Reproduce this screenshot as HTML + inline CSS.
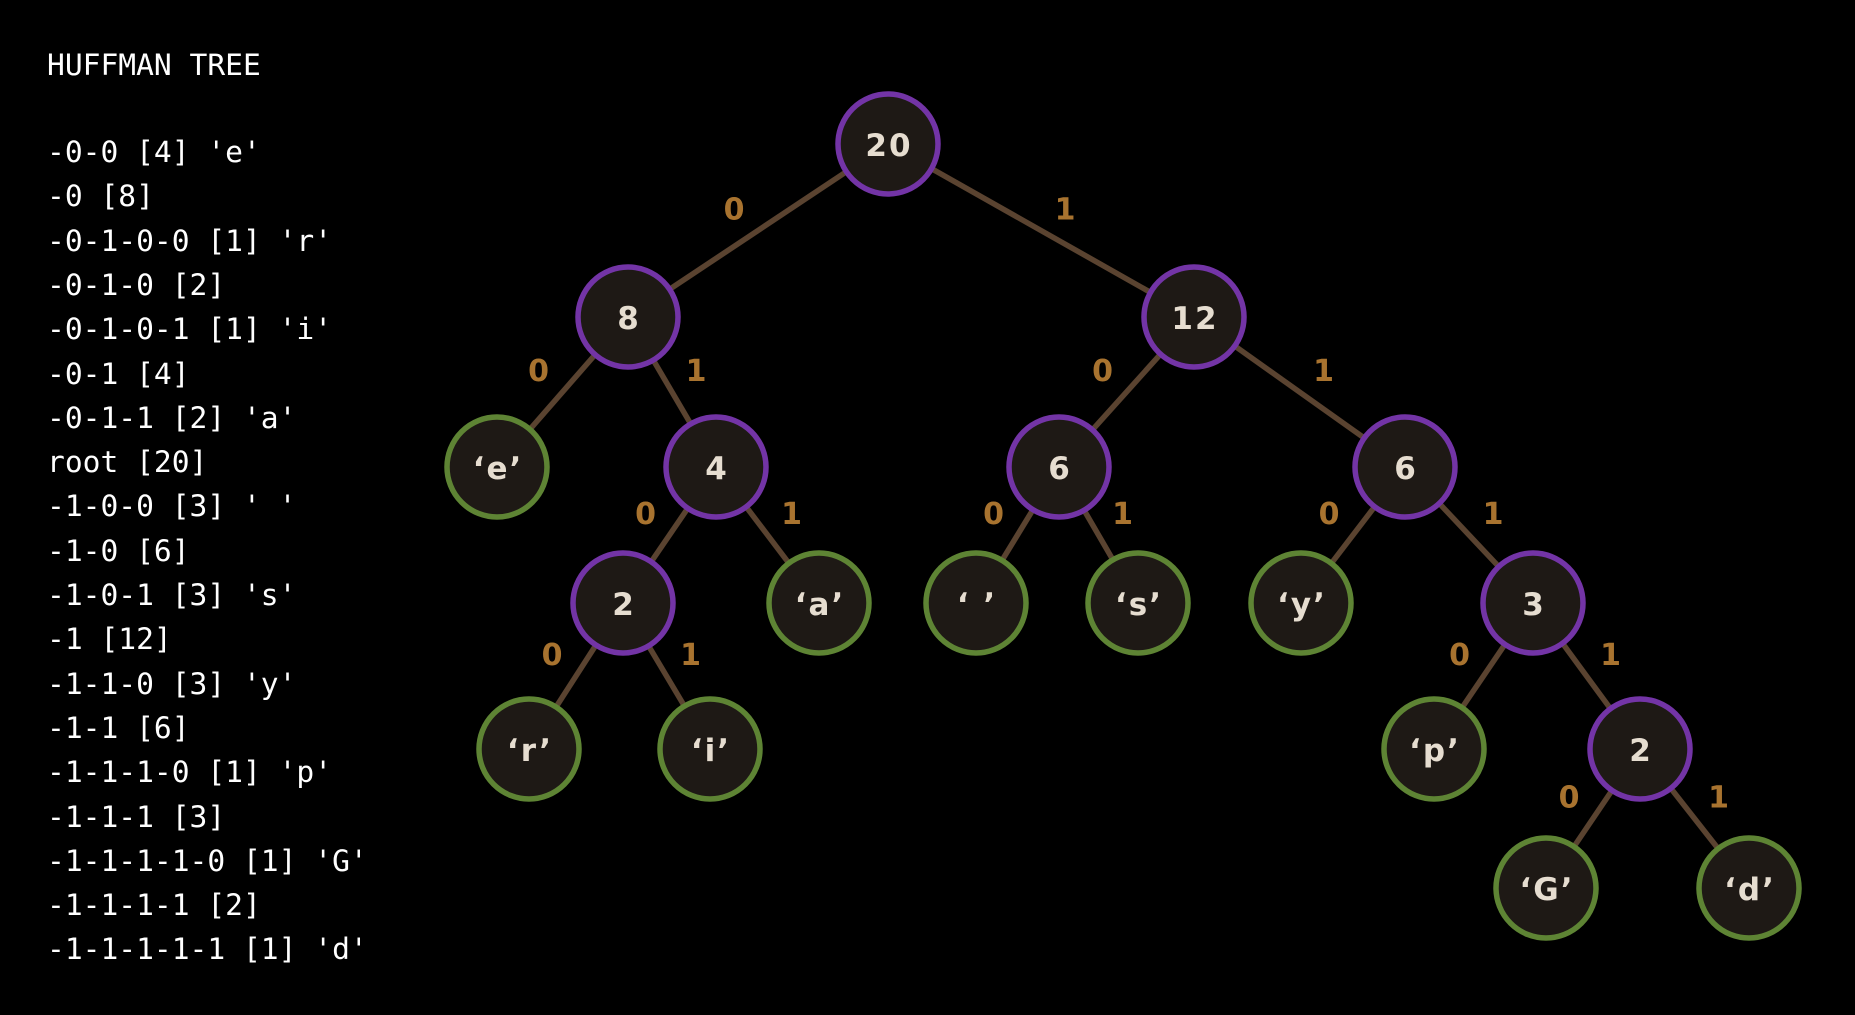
<!DOCTYPE html>
<html><head><meta charset="utf-8">
<style>
html,body{margin:0;padding:0;background:#000;width:1855px;height:1015px;overflow:hidden}
#list{position:absolute;left:47px;top:0;font-family:"DejaVu Sans Mono","Liberation Mono",monospace;font-size:29.6px;color:#fff;white-space:pre}
#list div{position:absolute;left:0;white-space:pre}
svg{position:absolute;left:0;top:0}
</style></head>
<body>
<div id="list"></div>
<svg id="tree" width="1855" height="1015"></svg>
<script>
const listLines = ["-0-0 [4] 'e'","-0 [8]","-0-1-0-0 [1] 'r'","-0-1-0 [2]","-0-1-0-1 [1] 'i'","-0-1 [4]","-0-1-1 [2] 'a'","root [20]","-1-0-0 [3] ' '","-1-0 [6]","-1-0-1 [3] 's'","-1 [12]","-1-1-0 [3] 'y'","-1-1 [6]","-1-1-1-0 [1] 'p'","-1-1-1 [3]","-1-1-1-1-0 [1] 'G'","-1-1-1-1 [2]","-1-1-1-1-1 [1] 'd'"];
const nodeIds = ["root","n8","n12","e","n4","n6a","n6b","n2","a","sp","s","y","n3","r","i","p","n2b","G","d"];
const nodeLabels = ["20","8","12","\u2018e\u2019","4","6","6","2","\u2018a\u2019","\u2018 \u2019","\u2018s\u2019","\u2018y\u2019","3","\u2018r\u2019","\u2018i\u2019","\u2018p\u2019","2","\u2018G\u2019","\u2018d\u2019"];
const nodeLeaf = [0,0,0,1,0,0,0,0,1,1,1,1,0,1,1,1,0,1,1];
const nodeX = [888,628,1194,497,716,1059,1405,623,819,976,1138,1301,1533,529,710,1434,1640,1546,1749];
const nodeY = [144,317,317,467,467,467,467,603,603,603,603,603,603,749,749,749,749,888,888];
const edgeFrom = ["root","root","n8","n8","n4","n4","n2","n2","n12","n12","n6a","n6a","n6b","n6b","n3","n3","n2b","n2b"];
const edgeTo = ["n8","n12","e","n4","n2","a","r","i","n6a","n6b","sp","s","y","n3","p","n2b","G","d"];
const edgeBit = ["0","1","0","1","0","1","0","1","0","1","0","1","0","1","0","1","0","1"];

const L = document.getElementById('list');
const t = document.createElement('div');
t.textContent = "HUFFMAN TREE";
t.style.top = "48px";


L.appendChild(t);
listLines.forEach((s,i)=>{
  const d = document.createElement('div');
  d.textContent = s;
  d.style.top = (135 + i*44.3) + "px";
  
  
  L.appendChild(d);
});

const NS = "http://www.w3.org/2000/svg";
const svg = document.getElementById('tree');
const idx = id => nodeIds.indexOf(id);
edgeFrom.forEach((f,k)=>{
  const a = idx(f), b = idx(edgeTo[k]);
  const ln = document.createElementNS(NS,'line');
  ln.setAttribute('x1',nodeX[a]); ln.setAttribute('y1',nodeY[a]);
  ln.setAttribute('x2',nodeX[b]); ln.setAttribute('y2',nodeY[b]);
  ln.setAttribute('stroke','#5a4330'); ln.setAttribute('stroke-width','5.5');
  
  
  svg.appendChild(ln);
  const mx = (nodeX[a]+nodeX[b])/2, my = (nodeY[a]+nodeY[b])/2;
  const dir = nodeX[b] < nodeX[a] ? -1 : 1;
  const tx = document.createElementNS(NS,'text');
  tx.setAttribute('x', mx + dir*24);
  tx.setAttribute('y', my - 11);
  tx.setAttribute('text-anchor','middle');
  tx.setAttribute('font-family','"DejaVu Sans","Liberation Sans",sans-serif');
  tx.setAttribute('font-weight','bold');
  tx.setAttribute('font-size','30');
  tx.setAttribute('fill','#a8732f');
  tx.textContent = edgeBit[k];
  
  
  svg.appendChild(tx);
});
nodeIds.forEach((id,i)=>{
  const c = document.createElementNS(NS,'circle');
  c.setAttribute('cx',nodeX[i]); c.setAttribute('cy',nodeY[i]); c.setAttribute('r','50');
  c.setAttribute('fill','#1e1915');
  c.setAttribute('stroke', nodeLeaf[i] ? '#5e8434' : '#7334a6');
  c.setAttribute('stroke-width','5.5');
  
  
  svg.appendChild(c);
  const tx = document.createElementNS(NS,'text');
  tx.setAttribute('x',nodeX[i]+1); tx.setAttribute('y',nodeY[i]+12);
  tx.setAttribute('text-anchor','middle');
  tx.setAttribute('font-family','"DejaVu Sans","Liberation Sans",sans-serif');
  tx.setAttribute('font-weight','bold');
  tx.setAttribute('font-size','31');
  tx.setAttribute('letter-spacing','2');
  tx.setAttribute('fill','#e6ddd0');
  tx.textContent = nodeLabels[i];
  
  
  svg.appendChild(tx);
});
</script>
</body></html>
